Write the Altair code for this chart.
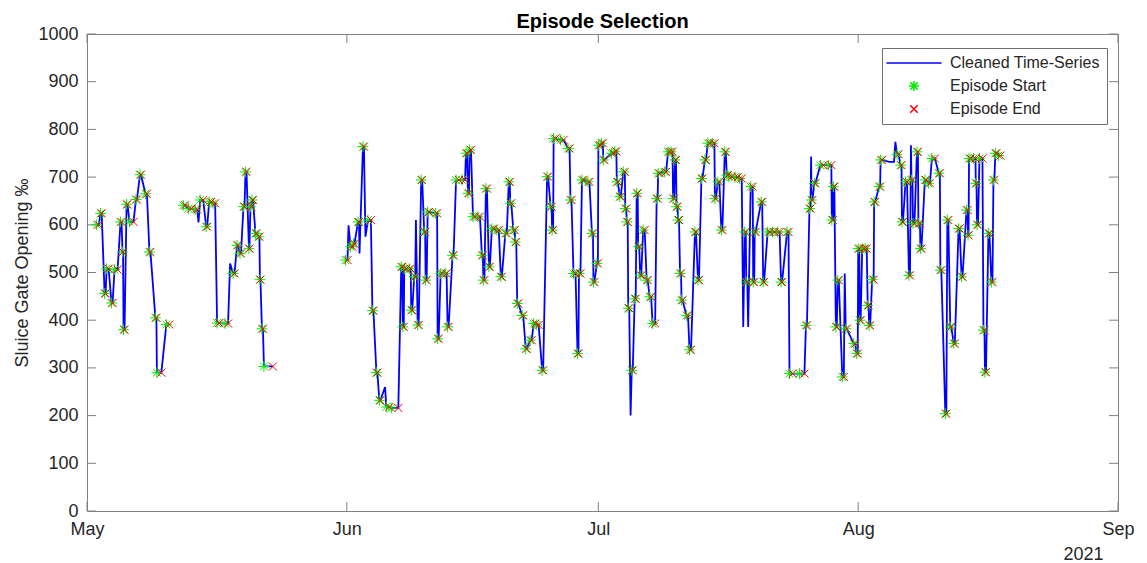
import altair as alt
import pandas as pd

# ---- data -----------------------------------------------------------------
# Episodes: start / end in days after 2021-05-01 00:00, level in per mille
start_day = [
    1.15, 1.63, 2.10, 2.34, 2.93, 3.29, 4.00, 4.24, 4.36, 4.72, 5.07, 5.84, 6.32, 6.97, 7.45, 8.16, 8.34, 9.47,
    11.49, 12.08, 12.91, 13.50, 14.22, 14.57, 15.05, 15.52, 16.47, 17.42, 17.90, 18.25, 18.67, 18.91, 19.32, 19.50,
    19.68, 20.10, 20.45, 20.63, 20.87, 21.11,
    30.84, 31.44, 31.79, 32.33, 32.92, 33.52, 34.05, 34.53, 34.88, 35.71, 36.31, 37.49, 37.67, 37.85, 38.44, 38.68,
    39.04, 39.45, 39.87, 40.23, 40.40, 40.64, 41.59, 41.83, 42.19, 42.72, 43.02, 43.61, 44.03, 44.74, 45.21,
    45.45, 45.63, 46.05, 46.64, 47.11, 47.29, 47.59, 47.95, 48.30, 48.90, 49.37, 49.91, 50.32, 50.50, 50.86, 51.09,
    51.33, 51.92, 52.34, 52.87, 53.29, 53.65, 54.30, 54.89, 55.31, 55.49, 55.67, 56.50, 57.39, 57.68, 58.04, 58.52,
    58.69, 59.05, 59.76, 60.24, 60.42, 60.83, 61.01,
    61.37, 61.60, 62.55, 62.97, 63.21, 63.56, 63.98, 64.22, 64.39, 64.57, 64.99, 65.34, 65.58, 65.76, 66.00, 66.35,
    66.77, 67.13, 67.48, 67.96, 68.14, 68.91, 69.32, 69.68, 69.92, 70.15, 70.33, 70.51, 70.75, 70.93, 71.52, 71.88,
    72.53, 72.89, 73.30, 73.72, 74.07, 74.61, 74.91, 75.26, 75.68, 76.09, 76.33,
    76.57, 77.28, 77.87, 78.47, 78.65, 79.18, 79.48, 79.66, 80.43, 80.67, 81.20, 81.79, 82.39, 82.80, 83.52, 83.81,
    85.00, 85.77, 86.19, 86.43, 86.78, 87.49, 88.44, 88.86, 89.04, 89.34, 89.57, 90.11, 90.52, 91.47,
    91.83, 92.01, 92.19, 92.48, 92.84, 93.14, 93.31, 93.67, 93.91, 94.50, 94.68, 96.64, 97.06, 97.23, 97.65, 98.06,
    98.36, 98.54, 99.01, 99.19, 99.43, 99.96, 100.38, 100.80, 101.63, 101.81, 102.40, 102.64, 102.99, 103.41,
    103.98, 104.34, 104.93, 105.11, 105.23, 105.76, 106.03, 106.18, 106.47, 106.95, 107.13, 107.54, 107.90,
    108.14, 108.37, 108.73,
]
end_day = [
    1.39, 1.75, 2.22, 2.58, 3.05, 3.65, 4.12, 4.30, 4.48, 4.83, 5.55, 5.96, 6.44, 7.15, 7.57, 8.28, 8.87, 9.82,
    11.72, 12.44, 13.15, 13.86, 14.34, 14.81, 15.29, 15.76, 16.83, 17.60, 18.02, 18.37, 18.79, 19.03, 19.38, 19.62,
    19.80, 20.21, 20.57, 20.69, 20.99, 22.17,
    31.08, 31.68, 31.91, 32.45, 33.04, 33.87, 34.17, 34.64, 35.00, 36.07, 37.14, 37.61, 37.79, 38.09, 38.62, 38.80,
    39.16, 39.57, 39.99, 40.34, 40.52, 40.82, 41.77, 41.95, 42.36, 42.90, 43.14, 43.73, 44.38, 45.10, 45.33,
    45.57, 45.81, 46.28, 46.88, 47.23, 47.41, 47.71, 48.06, 48.54, 49.13, 49.49, 50.08, 50.44, 50.62, 51.03, 51.21,
    51.45, 52.04, 52.46, 53.05, 53.53, 53.88, 54.42, 55.01, 55.43, 55.61, 55.90, 56.85, 57.57, 57.80, 58.28, 58.63,
    58.87, 59.23, 59.94, 60.36, 60.53, 60.95, 61.19,
    61.54, 61.72, 62.79, 63.15, 63.33, 63.68, 64.16, 64.34, 64.51, 64.69, 65.11, 65.46, 65.70, 65.88, 66.12, 66.53,
    66.89, 67.30, 67.78, 68.08, 68.31, 69.09, 69.50, 69.86, 70.04, 70.27, 70.45, 70.63, 70.87, 71.05, 71.70, 72.06,
    72.65, 73.01, 73.42, 73.84, 74.31, 74.85, 75.02, 75.44, 75.80, 76.21, 76.45,
    76.92, 77.64, 78.11, 78.59, 78.77, 79.42, 79.60, 79.77, 80.55, 80.78, 81.44, 82.03, 82.63, 82.92, 83.69, 84.17,
    85.59, 85.89, 86.31, 86.54, 86.90, 87.85, 88.80, 88.98, 89.16, 89.45, 89.69, 90.29, 90.64, 91.65,
    91.95, 92.13, 92.30, 92.72, 93.02, 93.25, 93.43, 93.85, 94.03, 94.62, 94.86, 96.82, 97.17, 97.35, 97.83, 98.18,
    98.48, 98.72, 99.13, 99.37, 99.55, 100.08, 100.56, 101.15, 101.75, 101.92, 102.52, 102.76, 103.11, 103.53,
    104.10, 104.45, 105.05, 105.17, 105.40, 106.00, 106.12, 106.30, 106.83, 107.07, 107.25, 107.66, 108.02,
    108.25, 108.49, 108.97,
]
level = [
    600, 624, 456, 508, 436, 506, 606, 543, 380, 643, 606, 653, 705, 665, 543, 405, 290, 391,
    641, 634, 632, 652, 596, 648, 645, 394, 393, 498, 557, 540, 638, 711, 550, 638,
    652, 582, 575, 485, 382, 303,
    526, 554, 560, 606, 764, 610, 420, 290, 232, 218, 216, 512, 386, 508, 508, 421,
    491, 390, 694, 585, 484, 627, 624, 361, 498, 498, 386, 536, 694, 694, 750,
    666, 757, 617, 617, 536, 484, 676, 512, 592, 589, 491, 582, 690, 645, 589, 564,
    435, 410, 340, 358, 393, 390, 295, 701, 638, 589, 781, 778, 760, 652, 498, 330,
    498, 694, 690, 582, 480, 519, 767,
    771, 736, 750, 754, 690, 659, 711, 634, 606, 425, 295, 445, 666, 554, 494, 589,
    484, 449, 393, 655, 708, 711, 753, 753, 655, 736, 638, 610, 498, 442, 410, 338,
    585, 484, 697, 736, 771, 771, 655, 690, 589, 753, 704,
    701, 700, 697, 585, 480, 680, 480, 585, 648, 480, 585, 585, 585, 480, 585, 288,
    288, 389, 634, 652, 687, 725, 725, 610, 680, 386, 484, 281, 382, 351,
    330, 550, 400, 550, 550, 431, 389, 485, 648, 680, 736, 748, 725, 606, 690, 494,
    694, 603, 753, 603, 550, 694, 687, 739, 708, 505, 204, 610, 386, 351,
    592, 491, 631, 578, 739, 739, 687, 600, 739, 379, 291, 582, 480,
    694, 750, 745,
]
# points of the cleaned series that carry no episode marker (spikes / plateaus)
extra_day = [13.30, 17.07, 31.20, 32.51, 33.22, 35.56, 39.24, 64.85, 78.29, 78.88, 86.39, 90.40,
             95.69, 96.28, 96.44, 98.30]
extra_level = [605, 519, 599, 540, 575, 260, 610, 200, 386, 386, 743, 498,
               732, 732, 774, 767]
# the series has no data between these blocks
gap_days = [10.5, 25.0]

y_ticks = [0, 100, 200, 300, 400, 500, 600, 700, 800, 900, 1000]
month_ticks = ["2021-05-01", "2021-06-01", "2021-07-01", "2021-08-01", "2021-09-01"]
series_names = ["Cleaned Time-Series", "Episode Start", "Episode End"]

# ---- tables -----------------------------------------------------------------
base = pd.Timestamp("2021-05-01")


def stamp(days):
    return (base + pd.to_timedelta(pd.Series(days, dtype=float), unit="D")).dt.strftime("%Y-%m-%dT%H:%M:%S")


line_days = list(start_day) + list(end_day) + list(extra_day)
line_vals = list(level) + list(level) + list(extra_level)
line_df = pd.DataFrame({"d": line_days, "v": line_vals}).sort_values("d", kind="stable")
line_df["seg"] = sum((line_df["d"] > g).astype(int) for g in gap_days)
line_df["t"] = stamp(line_df["d"]).values

pts_df = pd.concat([
    pd.DataFrame({"t": stamp(start_day).values, "v": level, "kind": "Episode Start"}),
    pd.DataFrame({"t": stamp(end_day).values, "v": level, "kind": "Episode End"}),
], ignore_index=True)

ytick_df = pd.DataFrame({"v": y_ticks})
xtick_df = pd.DataFrame({"t": [m + "T00:00:00" for m in month_ticks]})

# ---- styling ----------------------------------------------------------------
W, H = 1031, 477
FONT = "Liberation Sans"
TXT = "#262626"
FRAME = "#808080"

xs = alt.Scale(domain=["2021-05-01T00:00:00", "2021-09-01T00:00:00"], nice=False)
ys = alt.Scale(domain=[0, 1000], nice=False)

x_axis = alt.Axis(values=[m + "T00:00:00" for m in month_ticks], format="%b", labelFlush=False,
                  labelPadding=9, title="2021", titleX=W - 15, titleY=43, titleAlign="right",
                  titleBaseline="middle", titleAngle=0, titleFontWeight="normal")
y_axis = alt.Axis(values=y_ticks, format="d", labelPadding=9, title="Sluice Gate Opening ‰",
                  titlePadding=6, titleFontWeight="normal")

X = alt.X("t:T", scale=xs, axis=x_axis)
Y = alt.Y("v:Q", scale=ys, axis=y_axis)

star = "M-1,0L1,0M0,-1L0,1M-0.72,-0.72L0.72,0.72M-0.72,0.72L0.72,-0.72"
cross = "M-0.75,-0.75L0.75,0.75M-0.75,0.75L0.75,-0.75"
dash = "M-5.5,0L5.5,0"

legend = alt.Legend(title=None, orient="none", legendX=795, legendY=14, fillColor="white",
                    strokeColor="#6e6e6e", padding=7, labelFont=FONT, labelFontSize=16,
                    labelColor=TXT, symbolSize=100, symbolStrokeWidth=1.5, labelOffset=28,
                    symbolOffset=17, rowPadding=7, labelLimit=400)

line = alt.Chart(line_df).mark_line(color="#0000ff", strokeWidth=1.8).encode(
    x=X, y=Y, detail="seg:N", order="d:Q")

points = alt.Chart(pts_df).mark_point(filled=False, size=115, strokeWidth=1, opacity=1).encode(
    x=X, y=Y,
    color=alt.Color("kind:N", scale=alt.Scale(domain=series_names, range=["#0000ff", "#00ee00", "#ff0000"]),
                    legend=legend),
    shape=alt.Shape("kind:N", scale=alt.Scale(domain=series_names, range=[dash, star, cross]),
                    legend=legend),
)

tick_color = FRAME
yt_left = alt.Chart(ytick_df).mark_rule(color=tick_color, strokeWidth=1).encode(
    y=Y, x=alt.value(0), x2=alt.value(9))
yt_right = alt.Chart(ytick_df).mark_rule(color=tick_color, strokeWidth=1).encode(
    y=Y, x=alt.value(W - 9), x2=alt.value(W))
xt_bottom = alt.Chart(xtick_df).mark_rule(color=tick_color, strokeWidth=1).encode(
    x=X, y=alt.value(H - 9), y2=alt.value(H))
xt_top = alt.Chart(xtick_df).mark_rule(color=tick_color, strokeWidth=1).encode(
    x=X, y=alt.value(0), y2=alt.value(9))

chart = alt.layer(yt_left, yt_right, xt_bottom, xt_top, line, points).properties(
    width=W, height=H,
    title=alt.TitleParams("Episode Selection", font=FONT, fontSize=20, fontWeight="bold",
                          color="black", offset=4, anchor="middle", frame="group", dy=11),
    autosize=alt.AutoSizeParams(type="none"),
    padding={"left": 79, "top": 26, "right": 20, "bottom": 52},
    background="white",
).configure_view(stroke=FRAME, strokeWidth=1).configure_axis(
    grid=False, domain=False, ticks=False, labelFont=FONT, labelFontSize=18, labelColor=TXT,
    titleFont=FONT, titleFontSize=18, titleColor=TXT,
)

chart.save("out.html", embed_options={"renderer": "svg", "actions": False})
